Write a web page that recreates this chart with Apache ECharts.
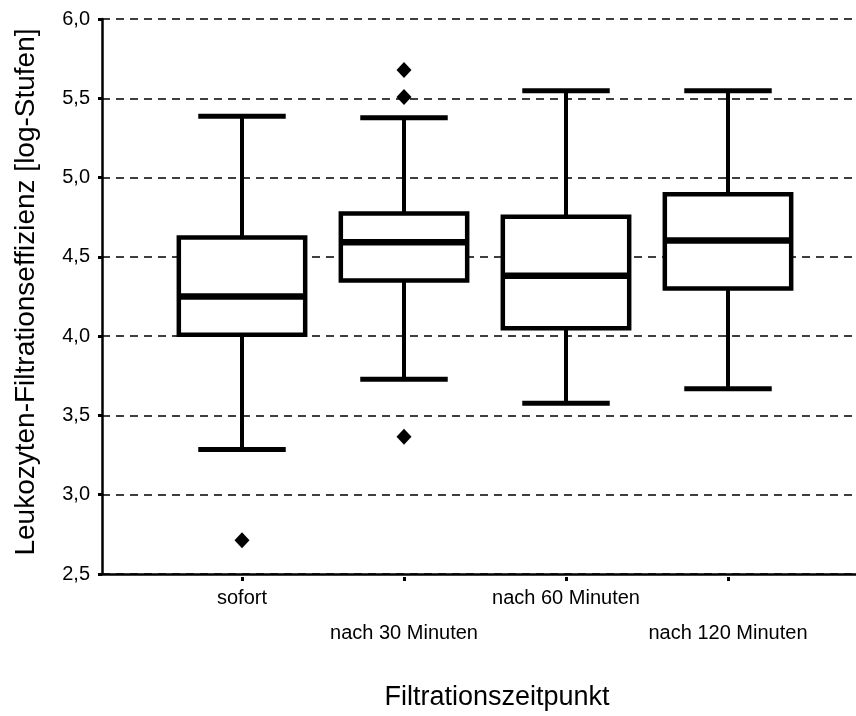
<!DOCTYPE html>
<html>
<head>
<meta charset="utf-8">
<script src="https://cdn.jsdelivr.net/npm/echarts@6/dist/echarts.min.js"></script>
<style>html,body{margin:0;padding:0;background:#fff}#c{width:856px;height:716px}</style>
</head>
<body>
<div id="c"></div>
<script>
// ---- data ----
var categories = ['sofort', 'nach 30 Minuten', 'nach 60 Minuten', 'nach 120 Minuten'];
var whiskerLow = [3.30, 3.74, 3.59, 3.68];
var q1 = [4.02, 4.36, 4.06, 4.31];
var median = [4.26, 4.60, 4.39, 4.61];
var q3 = [4.63, 4.78, 4.76, 4.90];
var whiskerHigh = [5.39, 5.38, 5.55, 5.55];
var outlierCat = [0, 1, 1, 1];
var outlierVal = [2.73, 5.68, 5.51, 3.38];
var yTicks = [2.5, 3.0, 3.5, 4.0, 4.5, 5.0, 5.5, 6.0];
var yTitle = 'Leukozyten-Filtrationseffizienz [log-Stufen]';
var xTitle = 'Filtrationszeitpunkt';

var FONT = 'Liberation Sans';
var boxData = categories.map(function (c, i) {
  return [i, whiskerLow[i], q1[i], median[i], q3[i], whiskerHigh[i]];
});
var outlierData = outlierCat.map(function (c, i) { return [c, outlierVal[i]]; });

var chart = echarts.init(document.getElementById('c'), null, {renderer: 'canvas'});
chart.setOption({
  animation: false,
  backgroundColor: '#fff',
  grid: [
    {left: 102, right: 0, top: 19, bottom: 139, containLabel: false},
    {left: 161, width: 648, top: 19, bottom: 139, containLabel: false}
  ],
  xAxis: [
    {
      gridIndex: 0, type: 'value', min: 0, max: 1,
      axisLine: {show: true, onZero: false, lineStyle: {color: '#000', width: 2.5}},
      axisTick: {show: false}, axisLabel: {show: false}, splitLine: {show: false},
      name: xTitle, nameLocation: 'middle', nameGap: 110,
      nameTextStyle: {fontFamily: FONT, fontSize: 27, color: '#000', padding: [0, 0, 0, 36]}
    },
    {
      gridIndex: 1, type: 'category', data: categories, boundaryGap: true,
      axisLine: {show: false},
      axisTick: {show: true, alignWithLabel: true, length: 4, lineStyle: {color: '#000', width: 3}},
      axisLabel: {
        show: true, interval: 0, margin: 4, color: '#000', fontFamily: FONT, fontSize: 20, lineHeight: 35,
        formatter: function (v, i) { return (i % 2 === 1 ? '\n' : '') + v; }
      },
      splitLine: {show: false}
    }
  ],
  yAxis: [
    {
      gridIndex: 0, type: 'value', min: yTicks[0], max: yTicks[yTicks.length - 1], interval: 0.5,
      axisLine: {show: true, lineStyle: {color: '#000', width: 2.5}},
      axisTick: {show: true, length: 4, lineStyle: {color: '#000', width: 3}},
      axisLabel: {
        color: '#000', fontFamily: FONT, fontSize: 20, margin: 12,
        formatter: function (v) { return v.toFixed(1).replace('.', ','); }
      },
      splitLine: {show: true, lineStyle: {color: '#000', width: 1.5, type: [8, 6]}},
      name: yTitle, nameLocation: 'middle', nameRotate: 90, nameGap: 62,
      nameTextStyle: {fontFamily: FONT, fontSize: 28, color: '#000', padding: [0, 0, 0, 9]}
    },
    {
      gridIndex: 1, type: 'value', min: yTicks[0], max: yTicks[yTicks.length - 1],
      axisLine: {show: false}, axisTick: {show: false}, axisLabel: {show: false}, splitLine: {show: false}
    }
  ],
  series: [
    {
      type: 'custom', xAxisIndex: 1, yAxisIndex: 1, data: boxData,
      encode: {x: 0, y: [1, 2, 3, 4, 5]},
      renderItem: function (params, api) {
        var idx = api.value(0);
        var band = api.size([1, 0])[0];
        var pLow = api.coord([idx, api.value(1)]);
        var pQ1 = api.coord([idx, api.value(2)]);
        var pMed = api.coord([idx, api.value(3)]);
        var pQ3 = api.coord([idx, api.value(4)]);
        var pHigh = api.coord([idx, api.value(5)]);
        var cx = pLow[0];
        var bw = band * 0.78, cw = band * 0.54;
        return {
          type: 'group',
          children: [
            {type: 'line', shape: {x1: cx, y1: pHigh[1], x2: cx, y2: pQ3[1]}, style: {stroke: '#000', lineWidth: 4}},
            {type: 'line', shape: {x1: cx, y1: pQ1[1], x2: cx, y2: pLow[1]}, style: {stroke: '#000', lineWidth: 4}},
            {type: 'line', shape: {x1: cx - cw / 2, y1: pHigh[1], x2: cx + cw / 2, y2: pHigh[1]}, style: {stroke: '#000', lineWidth: 5}},
            {type: 'line', shape: {x1: cx - cw / 2, y1: pLow[1], x2: cx + cw / 2, y2: pLow[1]}, style: {stroke: '#000', lineWidth: 5}},
            {type: 'rect', shape: {x: cx - bw / 2, y: pQ3[1], width: bw, height: pQ1[1] - pQ3[1]}, style: {fill: '#fff', stroke: '#000', lineWidth: 4.5}},
            {type: 'line', shape: {x1: cx - bw / 2, y1: pMed[1], x2: cx + bw / 2, y2: pMed[1]}, style: {stroke: '#000', lineWidth: 6.5}}
          ]
        };
      }
    },
    {
      type: 'scatter', xAxisIndex: 1, yAxisIndex: 1, data: outlierData,
      symbol: 'diamond', symbolSize: [15, 16], itemStyle: {color: '#000', opacity: 1}
    }
  ]
});
</script>
</body>
</html>
